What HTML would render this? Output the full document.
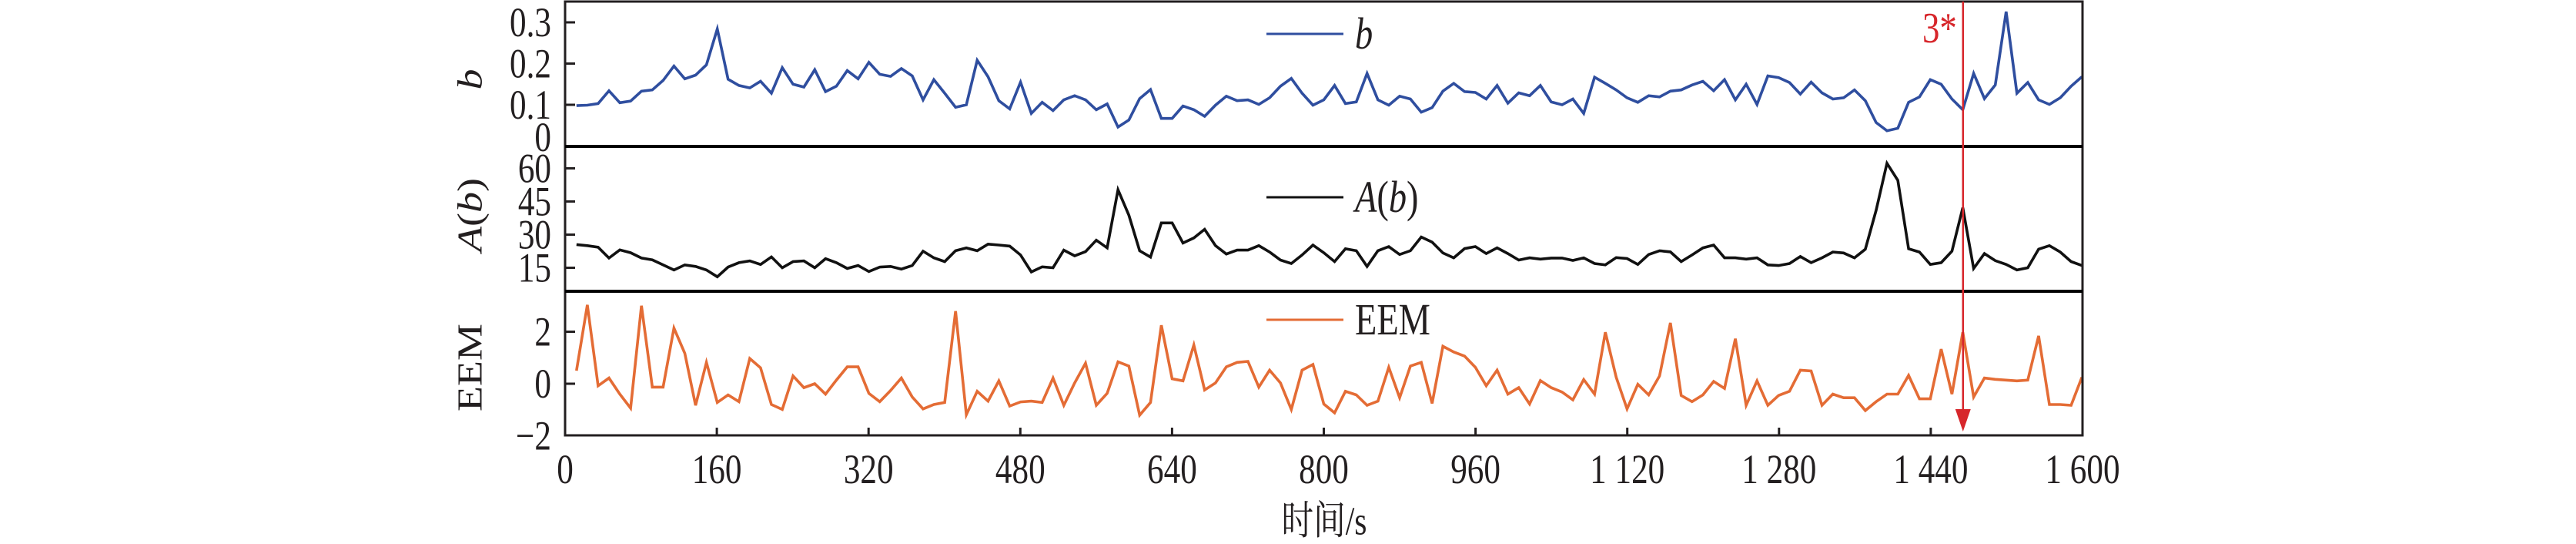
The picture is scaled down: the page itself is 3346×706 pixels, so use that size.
<!DOCTYPE html>
<html><head><meta charset="utf-8"><style>
html,body{margin:0;padding:0;background:#fff;}
svg{display:block;}
text{font-family:"Liberation Serif","Noto Serif CJK SC",serif;fill:#231f20;}
</style></head><body>
<svg id="chart" width="3346" height="706" viewBox="0 0 3346 706" xmlns="http://www.w3.org/2000/svg"></svg>
<script>
const tStart = 12;
const tStep = 11.42;
const bValues = [0.098,0.099,0.103,0.134,0.105,0.109,0.133,0.136,0.159,0.194,0.163,0.172,0.197,0.284,0.162,0.147,0.141,0.157,0.128,0.190,0.150,0.143,0.185,0.132,0.145,0.183,0.163,0.203,0.174,0.169,0.188,0.170,0.112,0.161,0.128,
0.094,0.100,0.208,0.168,0.110,0.090,0.155,0.079,0.106,0.086,0.112,0.122,0.112,0.088,0.102,0.046,0.063,0.115,0.137,0.067,0.067,0.097,0.088,0.072,0.099,0.121,0.110,0.112,0.101,0.117,0.145,0.164,0.128,0.099,
0.112,0.147,0.103,0.107,0.176,0.112,0.099,0.121,0.114,0.082,0.093,0.133,0.152,0.132,0.130,0.114,0.147,0.104,0.129,0.122,0.147,0.107,0.100,0.114,0.079,0.167,0.152,0.136,0.117,0.106,0.122,0.119,0.133,0.136,0.148,
0.157,0.134,0.161,0.112,0.150,0.101,0.170,0.166,0.154,0.126,0.155,0.129,0.114,0.117,0.136,0.110,0.057,0.037,0.043,0.106,0.119,0.161,0.150,0.114,0.088,0.176,0.115,0.148,0.326,0.128,0.154,0.112,0.101,0.117,0.145,0.168];
const aValues = [25.5,25.0,24.3,19.4,23.1,21.8,19.4,18.6,16.3,14.0,16.3,15.6,14.0,10.9,15.3,17.3,18.1,16.5,19.9,15.0,17.8,18.1,15.0,19.1,17.3,14.7,16.0,13.3,15.3,15.6,14.4,16.0,22.5,19.5,17.8,
22.7,24.0,22.7,25.7,25.3,24.8,20.8,13.1,15.4,15.0,23.0,20.4,22.3,27.5,24.0,50.3,38.8,22.7,19.8,35.3,35.3,26.2,28.5,32.4,25.0,21.2,23.0,23.0,25.0,22.1,18.5,16.9,20.8,25.3,
21.8,17.8,23.6,22.7,15.6,22.7,24.6,21.0,22.7,28.9,26.6,21.7,19.5,23.7,24.6,21.4,24.0,21.4,18.5,19.5,18.9,19.4,19.4,18.3,19.5,16.9,16.3,19.6,19.2,16.5,21.0,22.7,22.2,17.8,20.8,
24.0,25.3,19.5,19.5,18.9,19.5,16.3,16.0,16.9,20.1,17.3,19.5,22.1,21.7,19.5,23.4,41.0,62.3,54.6,23.6,22.1,16.5,17.3,22.5,42.2,14.7,21.4,18.2,16.5,14.0,15.0,23.4,25.0,22.1,17.8,16.0];
const eemValues = [0.50,3.03,-0.08,0.22,-0.40,-0.94,3.0,-0.13,-0.13,2.14,1.17,-0.83,0.82,-0.72,-0.43,-0.69,0.97,0.61,-0.80,-0.99,0.30,-0.15,0.0,-0.40,0.14,0.65,0.65,-0.37,-0.69,-0.26,0.22,-0.51,-0.97,-0.80,-0.72,
2.79,-1.19,-0.29,-0.67,0.11,-0.86,-0.70,-0.67,-0.72,0.22,-0.83,0.03,0.79,-0.83,-0.37,0.84,0.68,-1.21,-0.72,2.25,0.19,0.11,1.49,-0.24,0.03,0.65,0.82,0.86,-0.13,0.52,0.03,-0.99,0.52,0.74,
-0.78,-1.12,-0.29,-0.43,-0.83,-0.67,0.63,-0.54,0.68,0.82,-0.76,1.44,1.22,1.06,0.63,-0.08,0.52,-0.40,-0.15,-0.78,0.12,-0.15,-0.32,-0.62,0.16,-0.40,1.98,0.25,-0.97,-0.02,-0.43,0.30,2.34,-0.45,-0.69,
-0.43,0.09,-0.18,1.73,-0.83,0.11,-0.83,-0.45,-0.29,0.52,0.49,-0.83,-0.40,-0.54,-0.54,-1.03,-0.69,-0.40,-0.40,0.32,-0.58,-0.58,1.33,-0.40,1.98,-0.51,0.22,0.17,0.14,0.11,0.14,1.84,-0.80,-0.80,-0.83,0.25];
const xTicks = [0,160,320,480,640,800,960,1120,1280,1440,1600];
const xTickLabels = ["0","160","320","480","640","800","960","1 120","1 280","1 440","1 600"];
const bTicks = [0,0.1,0.2,0.3];
const bTickLabels = ["0","0.1","0.2","0.3"];
const aTicks = [15,30,45,60];
const aTickLabels = ["15","30","45","60"];
const eemTicks = [-2,0,2];
const eemTickLabels = ["\u22122","0","2"];
const markerTime = 1474;

const NS = "http://www.w3.org/2000/svg";
const svg = document.getElementById("chart");
const L = 734, R = 2705, TOP = 2, BOT = 565;
const SX = 0.8;
const xs = t => L + (t / 1600) * (R - L);
const yB = v => 189.5 - v * 535;
const yA = v => 390.5 - v * 2.867;
const yE = v => 498 - v * 33.75;
function mk(tag, attrs, parent) {
  const el = document.createElementNS(NS, tag);
  for (const k in attrs) el.setAttribute(k, attrs[k]);
  (parent || svg).appendChild(el);
  return el;
}
// condensed text placed at (x,y)
function ctxt(html, x, y, size, anchor, rot) {
  const t = mk("text", {x: 0, y: 0, "font-size": size, "text-anchor": anchor, "dominant-baseline": "central",
    transform: "translate(" + x + "," + y + ")" + (rot ? " rotate(-90)" : "") + " scale(" + SX + ",1)"});
  t.innerHTML = html;
  return t;
}

function series(vals, yf, color, name) {
  const d = vals.map((v, i) => (i ? "L" : "M") + xs(tStart + i * tStep).toFixed(1) + " " + yf(v).toFixed(1)).join(" ");
  const p = mk("path", {d: d, fill: "none", stroke: color, "stroke-width": 3.6, "stroke-linejoin": "miter"});
  
  
}
series(bValues, yB, "#2f4e9f", "b-series-line");
series(aValues, yA, "#111111", "ab-series-line");
series(eemValues, yE, "#e46c35", "eem-series-line");

const fr = mk("rect", {x: L, y: TOP, width: R - L, height: BOT - TOP, fill: "none", stroke: "#231f20", "stroke-width": 3});


[190, 378].forEach((y) => {
  const l = mk("line", {x1: L, x2: R, y1: y, y2: y, stroke: "#000", "stroke-width": 4});
  
  
});

xTicks.forEach((t, i) => {
  const x = xs(t);
  if (i > 0 && i < xTicks.length - 1) {
    const tk = mk("line", {x1: x, x2: x, y1: BOT, y2: BOT - 10, stroke: "#231f20", "stroke-width": 3});
    
    
  }
  const lb = ctxt(xTickLabels[i], x, 609, 54, "middle", false);
  
  
});
function yTicks(vals, labels, yf, name) {
  vals.forEach((v, i) => {
    const y = yf(v);
    if (y > TOP + 4 && Math.abs(y - 190) > 4 && Math.abs(y - 378) > 4 && y < BOT - 4) {
      const tk = mk("line", {x1: L, x2: L + 13, y1: y, y2: y, stroke: "#231f20", "stroke-width": 3});
      
      
    }
    const ly = (name === "b" && v === 0) ? 178 : y;
    const lb = ctxt(labels[i], 716, ly, 54, "end", false);
    
    
  });
}
yTicks(bTicks, bTickLabels, yB, "b");
yTicks(aTicks, aTickLabels, yA, "a");
yTicks(eemTicks, eemTickLabels, yE, "eem");

function ytitle(s, y, name) {
  const t = mk("text", {x: 0, y: 0, "font-size": 54, "text-anchor": "middle", "dominant-baseline": "central",
    transform: "translate(610," + y + ") rotate(-90) scale(1,0.85)"});
  t.innerHTML = s;
  
  
}
ytitle('<tspan font-style="italic">b</tspan>', 103, "b-axis-title");
ytitle('<tspan font-style="italic">A</tspan>(<tspan font-style="italic">b</tspan>)', 279, "ab-axis-title");
ytitle("EEM", 477, "eem-axis-title");

const xt = ctxt("时间/s", 1720, 677, 52, "middle", false);



function legend(y, color, html, name) {
  const l = mk("line", {x1: 1645, x2: 1745, y1: y, y2: y, stroke: color, "stroke-width": 3});
  
  
  const t = ctxt(html, 1760, y, 58, "start", false);
  
  
}
legend(44, "#2f4e9f", '<tspan font-style="italic">b</tspan>', "legend-b");
legend(256, "#111111", '<tspan font-style="italic">A</tspan>(<tspan font-style="italic">b</tspan>)', "legend-ab");
legend(415, "#e46c35", 'EEM', "legend-eem");

const mx = xs(markerTime);
const ml = mk("line", {x1: mx, x2: mx, y1: TOP, y2: 535, stroke: "#d7262b", "stroke-width": 2.5});


const ah = mk("polygon", {points: (mx - 10) + ",531 " + (mx + 10) + ",531 " + mx + ",560", fill: "#d7262b"});


const mt = ctxt("3*", mx - 8, 36, 56, "end", false);
mt.setAttribute("style", "fill:#d7262b");


</script>
</body></html>
